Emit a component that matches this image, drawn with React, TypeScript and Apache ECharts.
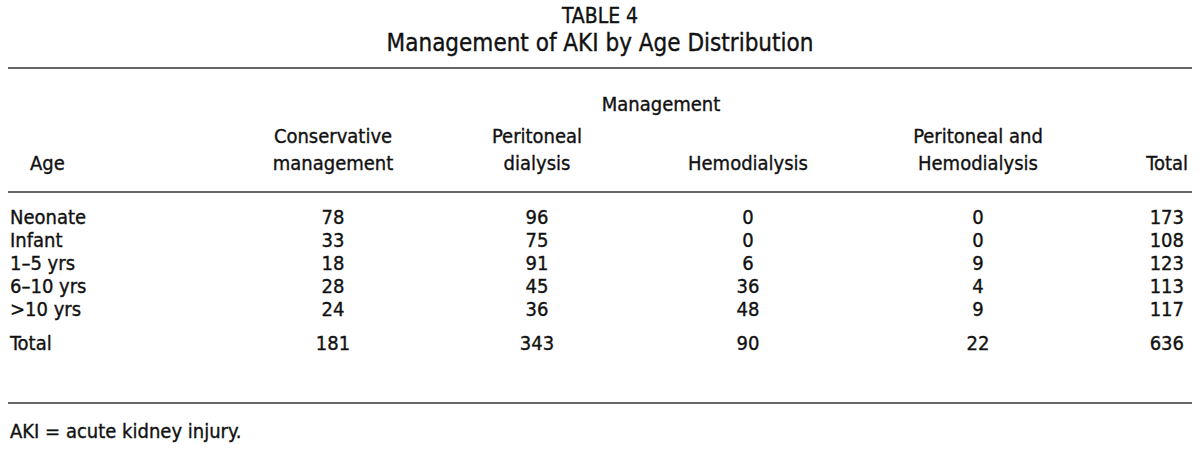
import React, { useEffect, useRef } from "react";
import * as echarts from "echarts";

// ---- Data ----
const ageGroups = ["Neonate", "Infant", "1–5 yrs", "6–10 yrs", ">10 yrs"];
const conservative = [78, 33, 18, 28, 24];
const peritoneal = [96, 75, 91, 45, 36];
const hemodialysis = [0, 0, 6, 36, 48];
const periAndHemo = [0, 0, 9, 4, 9];
const rowTotals = [173, 108, 123, 113, 117];
const totalLabel = ["Total"];
const columnTotals = [181, 343, 90, 22, 636];

const tableTitle = "TABLE 4";
const tableSubtitle = "Management of AKI by Age Distribution";
const groupHeader = "Management";
const columnHeaders = [
  "Conservative\nmanagement",
  "Peritoneal\ndialysis",
  "Hemodialysis",
  "Peritoneal and\nHemodialysis",
  "Total",
];
const footnote = "AKI = acute kidney injury.";

// ---- Layout ----
const FONT = "'DejaVu Sans Condensed', 'Liberation Sans Narrow', 'DejaVu Sans', sans-serif";
const INK = "#111111";
const FS = 20;
const STROKE = 0.35;
const ROW_H = 23;
const BODY_TOP = 205;
const TOTAL_TOP = 331;
const COLS = [
  { anchor: 333, align: "center" },
  { anchor: 537, align: "center" },
  { anchor: 748, align: "center" },
  { anchor: 978, align: "center" },
  { anchor: 1184, align: "right" },
];

export default function App() {
  const ref = useRef<HTMLDivElement>(null);
  useEffect(() => {
    const chart = echarts.init(ref.current!, null, { renderer: "svg" });
    const grids: any[] = [];
    const xAxes: any[] = [];
    const yAxes: any[] = [];
    const series: any[] = [];

    const addColumn = (anchor: number, align: string, cats: string[], labels: (string | number)[], top: number) => {
      const gi = grids.length;
      grids.push({ left: anchor - 5, width: 10, top, height: cats.length * ROW_H });
      xAxes.push({ type: "value", gridIndex: gi, min: -1, max: 1, show: false });
      yAxes.push({ type: "category", gridIndex: gi, data: cats, inverse: true, show: false });
      series.push({
        type: "scatter",
        xAxisIndex: gi,
        yAxisIndex: gi,
        symbolSize: 0,
        itemStyle: { color: INK, opacity: 0 },
        silent: true,
        emphasis: { disabled: true },
        data: cats.map((c, i) => ({ value: [0, c], label: { formatter: String(labels[i]) } })),
        label: {
          show: true,
          position: [0, 0],
          align,
          verticalAlign: "middle",
          color: INK,
          opacity: 1,
          fontFamily: FONT,
          fontSize: FS,
          textBorderColor: INK,
          textBorderWidth: STROKE,
        },
      });
    };

    // Age column (row labels), left aligned
    addColumn(10, "left", ageGroups, ageGroups, BODY_TOP);
    addColumn(10, "left", totalLabel, totalLabel, TOTAL_TOP);
    const valueCols = [conservative, peritoneal, hemodialysis, periAndHemo, rowTotals];
    valueCols.forEach((vals, c) => {
      addColumn(COLS[c].anchor, COLS[c].align, ageGroups, vals, BODY_TOP);
      addColumn(COLS[c].anchor, COLS[c].align, totalLabel, [columnTotals[c]], TOTAL_TOP);
    });

    const txt = (text: string, x: number, y: number, align = "center", size = FS) => ({
      type: "text",
      x,
      y,
      silent: true,
      style: {
        text,
        fill: INK,
        stroke: INK,
        lineWidth: STROKE,
        font: `${size}px ${FONT}`,
        align,
        verticalAlign: "middle",
        lineHeight: 27,
      },
    });
    const hline = (y: number) => ({
      type: "line",
      silent: true,
      shape: { x1: 8, y1: y, x2: 1192, y2: y },
      style: { stroke: "#333", lineWidth: 1.4 },
    });

    const graphic: any[] = [
      txt(tableTitle, 600, 16, "center", 21),
      txt(tableSubtitle, 600, 43, "center", 24),
      hline(68),
      txt(groupHeader, 661, 104),
      txt("Age", 30, 163, "left"),
      hline(192),
      hline(403),
      txt(footnote, 10, 431, "left"),
    ];
    columnHeaders.forEach((h, c) => {
      const twoLine = h.includes("\n");
      const x = COLS[c].align === "right" ? COLS[c].anchor + 4 : COLS[c].anchor;
      graphic.push(txt(h, x, twoLine ? 149 : 163, COLS[c].align));
    });

    chart.setOption({
      animation: false,
      backgroundColor: "#ffffff",
      grid: grids,
      xAxis: xAxes,
      yAxis: yAxes,
      series,
      graphic,
    });
    return () => chart.dispose();
  }, []);
  return <div ref={ref} style={{ position: "fixed", left: 0, top: 0, width: 1200, height: 451 }} />;
}
